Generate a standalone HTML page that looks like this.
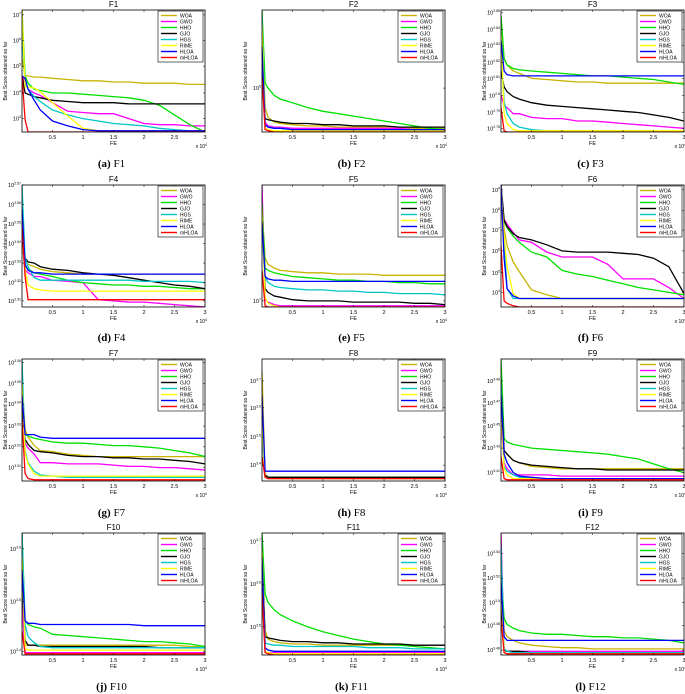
<!DOCTYPE html>
<html><head><meta charset="utf-8"><style>
html,body{margin:0;padding:0;background:#fff;}
svg{display:block;font-family:"Liberation Sans",sans-serif;}
</style></head><body>
<svg id="fig" width="685" height="694" viewBox="0 0 685 694"></svg>
<script>
const FE = [0,0.05,0.1,0.2,0.3,0.5,0.75,1,1.25,1.5,1.75,2,2.25,2.5,2.75,3];
const algs = ["WOA","GWO","HHO","GJO","HGS","RIME","HLOA","mHLOA"];
const colors = ["#c8b400","#ff00ff","#00e000","#000000","#00c8c8","#ffff00","#0000ff","#ff0000"];
const xTicks = [0.5,1,1.5,2,2.5,3];
const xTickLabels = ["0.5","1","1.5","2","2.5","3"];
const titles = ["F1","F2","F3","F4","F5","F6","F7","F8","F9","F10","F11","F12"];
const captions = ["(a)","(b)","(c)","(d)","(e)","(f)","(g)","(h)","(i)","(j)","(k)","(l)"];
// y tick labels (exponents) and positions as percent of the axis height
const yTickExp = [["7","6","5","4","3"],["5"],["2.85","2.84","2.83","2.82","2.81","2.8","2.79","2.78"],["2.57","2.56","2.55","2.54","2.53","2.52","2.51"],["7"],["9","8","7","6","5","4"],["3.06","3.05","3.04","3.03","3.02","3.01"],["3.7","3.6","3.5","3.4"],["3.49","3.47","3.45","3.43","3.41"],["3.6","3.5","3.4"],["3.7","3.6","3.5"],["3.54","3.52","3.5","3.48","3.46"]];
const yTickPct = [[96,75,54,32,11],[36],[98,84,71,57,44,30,16,3],[100,84,68,52,36,20,5],[5],[96,79,63,46,28,12],[97,80,63,45,28,11],[82,60,36,13],[82,64,45,27,7],[87,44,3],[93,58,23],[83,63,43,24,4]];
// series values: percent of the axis height (log scale), order = algs
const F1 = [[60,46,46,45,45,44,43,42,42,41,41,40,40,40,39,39],[46,40,35,32,30,24,17,16,15,15,11,7,6,6,5,5],[100,46,40,35,34,32,32,31,30,29,28,26,22,14,6,0],[46,32,31,29,28,26,25,24,24,24,23,23,23,23,23,23],[80,40,35,29,25,18,14,11,9,7,6,5,3,2,1,1],[100,37,37,36,33,24,13,3,1,1,1,1,1,1,1,1],[46,44,35,26,18,9,5,2,1,1,1,1,1,1,1,1],[46,10,0,0,0,0,0,0,0,0,0,0,0,0,0,0]];
const F2 = [[90,20,12,8,7,6,5,5,4,4,4,4,4,3,3,3],[70,8,5,4,4,3,3,3,3,3,3,3,3,2,2,2],[100,40,36,30,27,24,20,17,15,13,11,9,7,5,3,2],[60,11,10,9,8,7,7,6,6,5,5,5,4,4,4,4],[95,6,4,3,3,2,2,2,2,2,2,2,2,2,2,2],[88,3,2,1,1,1,1,1,1,1,1,1,1,1,1,1],[70,6,4,3,3,2,2,2,2,2,2,2,2,2,2,2],[45,2,1,0,0,0,0,0,0,0,0,0,0,0,0,0]];
const F3 = [[95,60,55,50,48,44,43,42,41,41,40,40,40,40,40,40],[30,22,20,15,15,12,11,11,9,9,8,7,6,5,4,3],[95,60,55,52,51,50,49,48,47,46,46,45,44,43,41,39],[50,37,33,29,27,24,22,21,20,19,18,17,16,14,12,9],[70,25,15,7,4,2,1,1,1,1,1,1,1,1,0,0],[80,15,7,2,1,1,1,1,1,1,1,1,1,1,1,1],[75,50,47,46,46,46,46,46,46,46,46,46,46,46,46,46],[20,1,0,0,0,0,0,0,0,0,0,0,0,0,0,0]];
const F4 = [[55,38,35,33,31,29,28,27,27,27,27,27,27,27,27,27],[55,30,28,25,25,22,21,20,6,5,4,4,3,2,1,0],[55,33,31,28,27,25,22,20,19,18,18,17,17,16,15,15],[55,40,37,36,33,31,30,28,27,26,24,22,20,18,17,15],[100,40,33,24,22,22,22,22,22,22,22,21,21,21,21,20],[60,30,18,15,14,13,13,13,13,13,13,13,13,13,13,13],[80,35,30,28,28,27,27,27,27,27,27,27,27,27,27,27],[65,25,6,6,6,6,6,6,6,6,6,6,6,6,6,6]];
const F5 = [[80,40,35,32,30,29,28,28,27,27,27,26,26,26,26,26],[100,6,4,2,1,1,1,1,1,1,1,1,1,1,1,1],[85,32,30,28,27,25,24,23,22,22,21,21,20,20,19,19],[80,15,12,9,8,6,5,5,5,4,4,4,4,3,3,2],[60,25,20,17,16,15,14,14,13,13,12,12,11,11,11,10],[80,8,3,1,0,0,0,0,0,0,0,0,0,0,0,0],[70,25,23,22,22,21,21,21,21,21,21,21,21,21,21,21],[30,1,0,0,0,0,0,0,0,0,0,0,0,0,0,0]];
const F6 = [[100,64,50,37,29,14,10,7,7,7,7,7,7,7,7,7],[100,72,68,61,55,53,45,41,41,41,35,23,23,23,16,7],[100,70,65,58,53,45,41,30,27,25,22,19,16,14,12,10],[100,71,66,60,57,55,51,46,45,45,45,44,43,40,33,11],[100,50,15,7,7,7,7,7,7,7,7,7,7,7,7,7],[100,57,33,11,7,7,7,7,7,7,7,7,7,7,7,7],[100,40,15,9,7,7,7,7,7,7,7,7,7,7,7,7],[50,5,3,1,0,0,0,0,0,0,0,0,0,0,0,0]];
const F7 = [[80,42,36,29,25,24,22,21,20,20,20,20,20,20,20,20],[60,31,27,22,15,15,14,14,14,13,12,12,11,11,10,9],[70,38,37,35,34,32,31,31,30,29,29,28,27,25,23,20],[60,34,30,25,24,23,21,20,20,19,19,18,18,17,16,14],[100,25,15,8,5,4,3,3,3,3,3,3,3,3,3,3],[80,23,14,6,4,4,4,4,4,4,4,4,4,4,4,4],[70,38,38,38,36,35,35,35,35,35,35,35,35,35,35,35],[50,6,2,1,1,1,1,1,1,1,1,1,1,1,1,1]];
const F8 = [[90,5,3,3,3,3,3,3,3,3,3,3,3,3,3,3],[40,3,2,2,2,2,2,2,2,2,2,2,2,2,2,2],[50,4,3,3,3,3,3,3,3,3,3,3,3,3,3,3],[60,5,3,3,3,3,3,3,3,3,3,3,3,3,3,3],[40,3,2,2,2,2,2,2,2,2,2,2,2,2,2,2],[50,3,2,2,2,2,2,2,2,2,2,2,2,2,2,2],[70,8,8,8,8,8,8,8,8,8,8,8,8,8,8,8],[20,3,2,2,2,2,2,2,2,2,2,2,2,2,2,2]];
const F9 = [[70,25,22,17,15,12,11,10,10,10,10,10,10,10,10,10],[50,15,10,5,5,5,5,4,4,4,4,4,4,4,4,4],[100,35,32,30,29,27,26,25,24,23,22,20,18,14,10,7],[80,25,22,17,15,13,12,11,10,10,9,9,9,9,9,9],[80,12,8,5,3,2,2,2,2,2,2,2,2,2,2,2],[60,10,5,2,2,2,2,2,2,2,2,2,2,2,2,2],[70,22,15,7,4,3,2,2,2,2,2,2,2,2,2,2],[20,2,1,1,1,1,1,1,1,1,1,1,1,1,1,1]];
const F10 = [[90,8,8,8,8,8,8,8,8,8,8,8,8,8,7,7],[40,2,2,2,2,2,2,2,2,2,2,2,2,2,2,2],[100,28,25,23,22,17,16,15,14,13,12,11,11,10,9,7],[60,12,8,8,7,7,7,7,7,7,7,7,6,6,6,6],[100,25,15,10,7,6,6,6,6,6,6,6,6,6,6,6],[80,5,4,4,4,4,4,4,4,4,4,4,4,4,4,4],[70,28,26,26,25,25,25,25,25,25,25,24,24,24,24,24],[20,1,1,1,1,1,1,1,1,1,1,1,1,1,1,1]];
const F11 = [[90,20,13,11,10,9,9,8,8,8,8,8,8,8,8,8],[60,3,2,2,2,2,2,2,2,2,2,2,2,2,2,2],[100,50,43,37,33,28,23,19,16,13,11,9,8,7,6,5],[80,15,14,13,12,11,11,10,10,9,9,9,9,8,8,8],[70,10,9,8,8,7,7,7,7,7,6,6,6,5,5,5],[85,3,2,1,1,1,1,1,1,1,1,1,1,1,1,1],[80,6,4,3,3,3,3,3,3,3,3,3,3,3,3,3],[50,2,1,0,0,0,0,0,0,0,0,0,0,0,0,0]];
const F12 = [[80,20,15,12,10,8,7,6,6,5,5,5,5,5,5,5],[100,4,3,3,3,3,3,3,3,3,3,3,3,3,3,3],[70,30,25,22,20,18,17,17,16,15,15,14,14,13,12,10],[40,4,3,3,3,2,2,2,2,2,2,2,2,2,2,2],[90,5,3,2,2,2,2,2,2,2,2,2,2,2,2,2],[60,2,1,1,1,1,1,1,1,1,1,1,1,1,1,1],[60,15,12,12,12,12,12,12,12,12,12,12,12,12,12,12],[30,2,1,1,1,1,1,1,1,1,1,1,1,1,1,1]];
const panelData = [F1,F2,F3,F4,F5,F6,F7,F8,F9,F10,F11,F12];

const NS = "http://www.w3.org/2000/svg";
const svg = document.getElementById("fig");
const colLeft = [22,262,501], rowTop = [10,185,359,533], capY = [163,337,512,686];
const W = 183, H = 122;
function mk(tag, attrs, parent){const e=document.createElementNS(NS,tag);for(const k in attrs)e.setAttribute(k,attrs[k]);parent.appendChild(e);return e;}

panelData.forEach((series, p) => {
  const c = p % 3, r = Math.floor(p / 3);
  const L = colLeft[c], T = rowTop[r];
  const xs = v => L + v / 3 * W;
  const ys = v => T + H - v / 100 * H;
  const g = mk("g", {}, svg);
  
  
  const t = mk("text", {x: L + W/2, y: T - 3, "font-size": 8, "text-anchor": "middle"}, g);
  t.textContent = titles[p];
  
  
  const clip = mk("clipPath", {id: "c" + p}, g);
  mk("rect", {x: L, y: T, width: W, height: H}, clip);
  // series
  series.forEach((vals, s) => {
    const pts = vals.map((v, i) => xs(FE[i]).toFixed(1) + "," + ys(v).toFixed(1)).join(" ");
    const pl = mk("polyline", {points: pts, fill: "none", stroke: colors[s], "stroke-width": 1.3, "clip-path": "url(#c" + p + ")"}, g);
    
    
  });
  const box = mk("rect", {x: L, y: T, width: W, height: H, fill: "none", stroke: "#000", "stroke-width": 0.8}, g);
  
  
  // x ticks
  xTicks.forEach((v, i) => {
    mk("line", {x1: xs(v), x2: xs(v), y1: T + H, y2: T + H - 2, stroke: "#000", "stroke-width": 0.5}, g);
    mk("line", {x1: xs(v), x2: xs(v), y1: T, y2: T + 2, stroke: "#000", "stroke-width": 0.5}, g);
    const tl = mk("text", {x: xs(v), y: T + H + 7, "font-size": 5.5, "text-anchor": "middle"}, g);
    tl.textContent = xTickLabels[i];
    
    
  });
  const fe = mk("text", {x: L + W/2, y: T + H + 13, "font-size": 5.5, "text-anchor": "middle"}, g);
  fe.textContent = "FE";
  
  
  const mul = mk("text", {x: L + W + 2, y: T + H + 16, "font-size": 5, "text-anchor": "end"}, g);
  mul.innerHTML = 'x 10<tspan dy="-2" font-size="3.5">4</tspan>';
  
  
  // y ticks
  yTickExp[p].forEach((ex, i) => {
    const y = ys(yTickPct[p][i]);
    mk("line", {x1: L, x2: L + 2, y1: y, y2: y, stroke: "#000", "stroke-width": 0.5}, g);
    mk("line", {x1: L + W, x2: L + W - 2, y1: y, y2: y, stroke: "#000", "stroke-width": 0.5}, g);
    const yl = mk("text", {x: L - 1, y: y + 2, "font-size": 5.5, "text-anchor": "end"}, g);
    yl.innerHTML = '10<tspan dy="-2.5" font-size="3.5">' + ex + '</tspan>';
    
    
  });
  const yt = mk("text", {x: 0, y: 0, "font-size": 5, "text-anchor": "middle", transform: "translate(" + (L - 15) + "," + (T + H/2) + ") rotate(-90)"}, g);
  yt.textContent = "Best Score obtained so far";
  
  
  // legend
  const lx = L + W - 47, ly = T + 1;
  const lg = mk("g", {}, g);
  
  
  mk("rect", {x: lx, y: ly, width: 45, height: 51, fill: "#fff", stroke: "#000", "stroke-width": 0.6}, lg);
  algs.forEach((a, s) => {
    const yy = ly + 4.5 + s * 6;
    const e = mk("g", {}, lg);
    
    
    mk("line", {x1: lx + 3, x2: lx + 19, y1: yy, y2: yy, stroke: colors[s], "stroke-width": 1.4}, e);
    const tx = mk("text", {x: lx + 22, y: yy + 1.8, "font-size": 5}, e);
    tx.textContent = a;
  });
  // caption
  const cap = mk("text", {x: L + W/2 - 2, y: capY[r] + 4, "font-size": 11, "text-anchor": "middle", "font-family": "Liberation Serif, serif"}, svg);
  cap.innerHTML = '<tspan font-weight="bold">' + captions[p] + '</tspan> ' + titles[p];
  
  
});
</script>
</body></html>
